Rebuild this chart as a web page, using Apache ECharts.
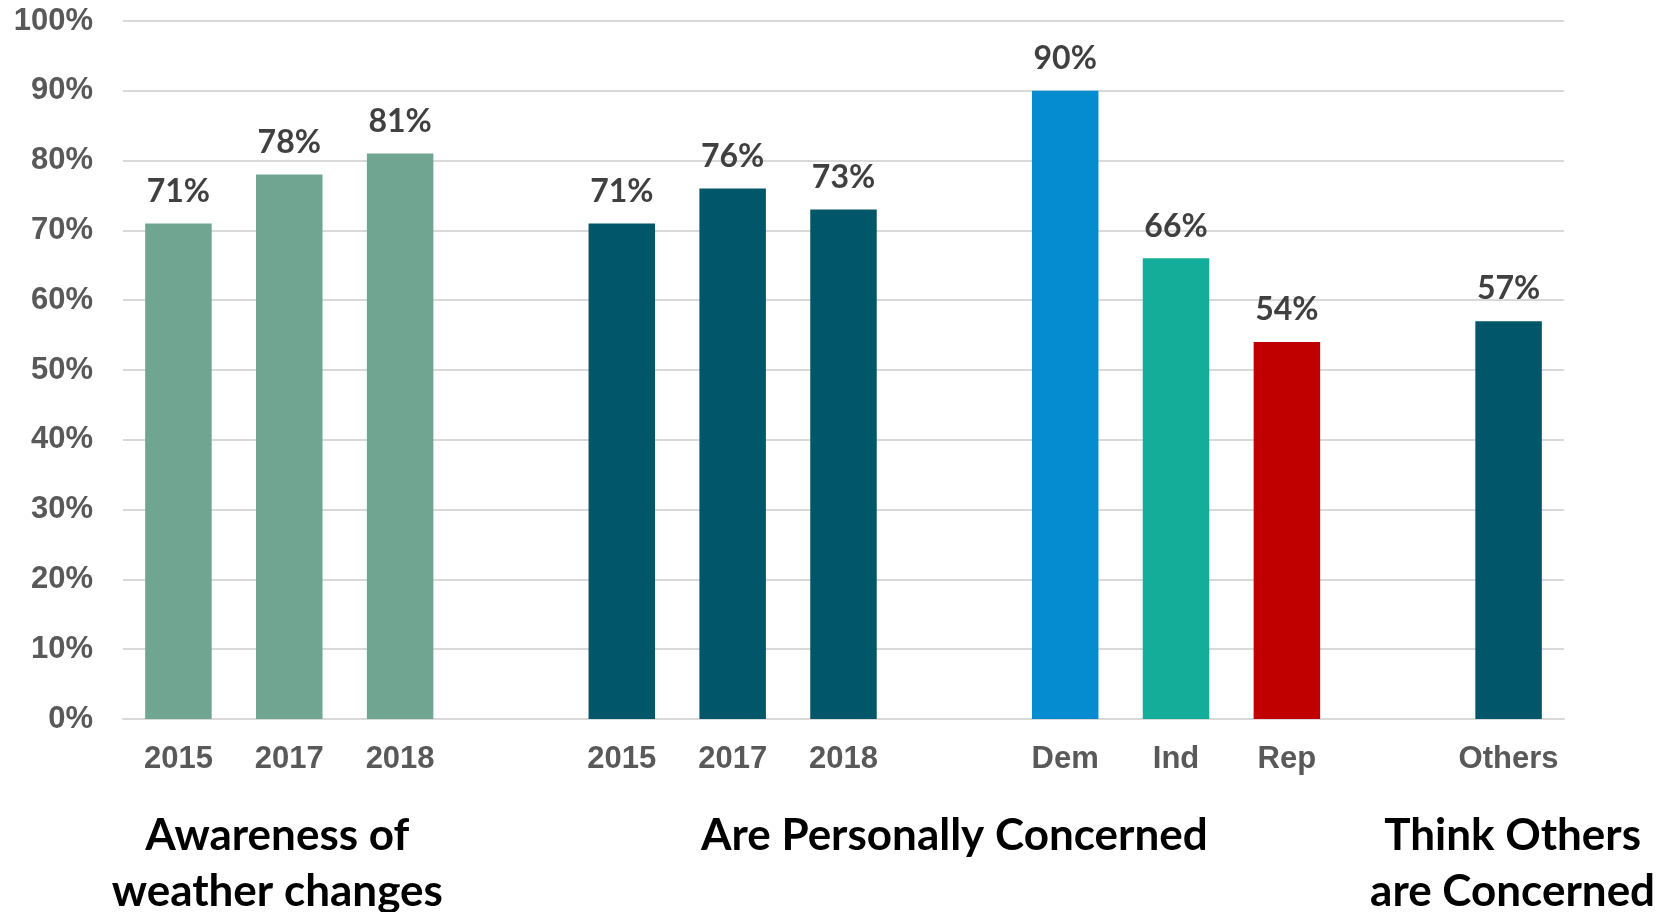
<!DOCTYPE html>
<html>
<head>
<meta charset="utf-8">
<script src="https://cdn.jsdelivr.net/npm/echarts@6/dist/echarts.min.js"></script>
<style>
html,body{margin:0;padding:0;background:#fff;}
#chart{width:1665px;height:912px;}
</style>
</head>
<body>
<div id="chart"></div>
<script>
// Categories (blank entries are spacer slots between groups)
var categories = ['2015', '2017', '2018', '', '2015', '2017', '2018', '', 'Dem', 'Ind', 'Rep', '', 'Others'];
var values = [71, 78, 81, null, 71, 76, 73, null, 90, 66, 54, null, 57];
var barColors = ['#70A592', '#70A592', '#70A592', null, '#02566A', '#02566A', '#02566A', null, '#058BD0', '#14AD99', '#C00000', null, '#02566A'];
var yTicks = [0, 10, 20, 30, 40, 50, 60, 70, 80, 90, 100];
var groupTitles = [
  {text: 'Awareness of\nweather changes', from: 0, to: 2},
  {text: 'Are Personally Concerned', from: 4, to: 10},
  {text: 'Think Others\nare Concerned', from: 12, to: 12}
];

var chart = echarts.init(document.getElementById('chart'));
var data = values.map(function (v, i) {
  return v === null ? null : {value: v, itemStyle: {color: barColors[i]}};
});

var option = {
  backgroundColor: '#ffffff',
  animation: false,
  grid: {left: 123, right: 101, top: 21, bottom: 193, containLabel: false},
  xAxis: {
    type: 'category',
    data: categories,
    axisLine: {show: true, lineStyle: {color: '#D9D9D9', width: 2}},
    axisTick: {show: false},
    axisLabel: {
      color: '#595959', fontFamily: 'Liberation Sans, Arial, sans-serif',
      fontWeight: 'bold', fontSize: 31, margin: 25, interval: 0
    }
  },
  yAxis: {
    type: 'value',
    min: yTicks[0], max: yTicks[yTicks.length - 1], interval: 10,
    axisLine: {show: false},
    axisTick: {show: false},
    splitLine: {show: true, lineStyle: {color: '#D9D9D9', width: 2}},
    axisLabel: {
      color: '#595959', fontFamily: 'Liberation Sans, Arial, sans-serif',
      fontWeight: 'bold', fontSize: 31, margin: 30,
      formatter: '{value}%'
    }
  },
  series: [{
    type: 'bar',
    data: data,
    barWidth: '60%',
    label: {
      show: true, position: 'top', distance: 16,
      color: '#404040', fontFamily: 'Lato, sans-serif', fontWeight: 'bold', fontSize: 32,
      formatter: '{c}%'
    }
  }]
};
chart.setOption(option);

var offsets = [-12, 0, 4];
var graphics = groupTitles.map(function (g, k) {
  var x1 = chart.convertToPixel({xAxisIndex: 0}, g.from);
  var x2 = chart.convertToPixel({xAxisIndex: 0}, g.to);
  return {
    type: 'text',
    x: (x1 + x2) / 2 + offsets[k],
    y: 808,
    style: {
      text: g.text,
      fill: '#000000',
      font: 'bold 44px Lato, sans-serif',
      align: 'center',
      verticalAlign: 'top',
      lineHeight: 56
    }
  };
});
chart.setOption({graphic: graphics});
</script>
</body>
</html>
